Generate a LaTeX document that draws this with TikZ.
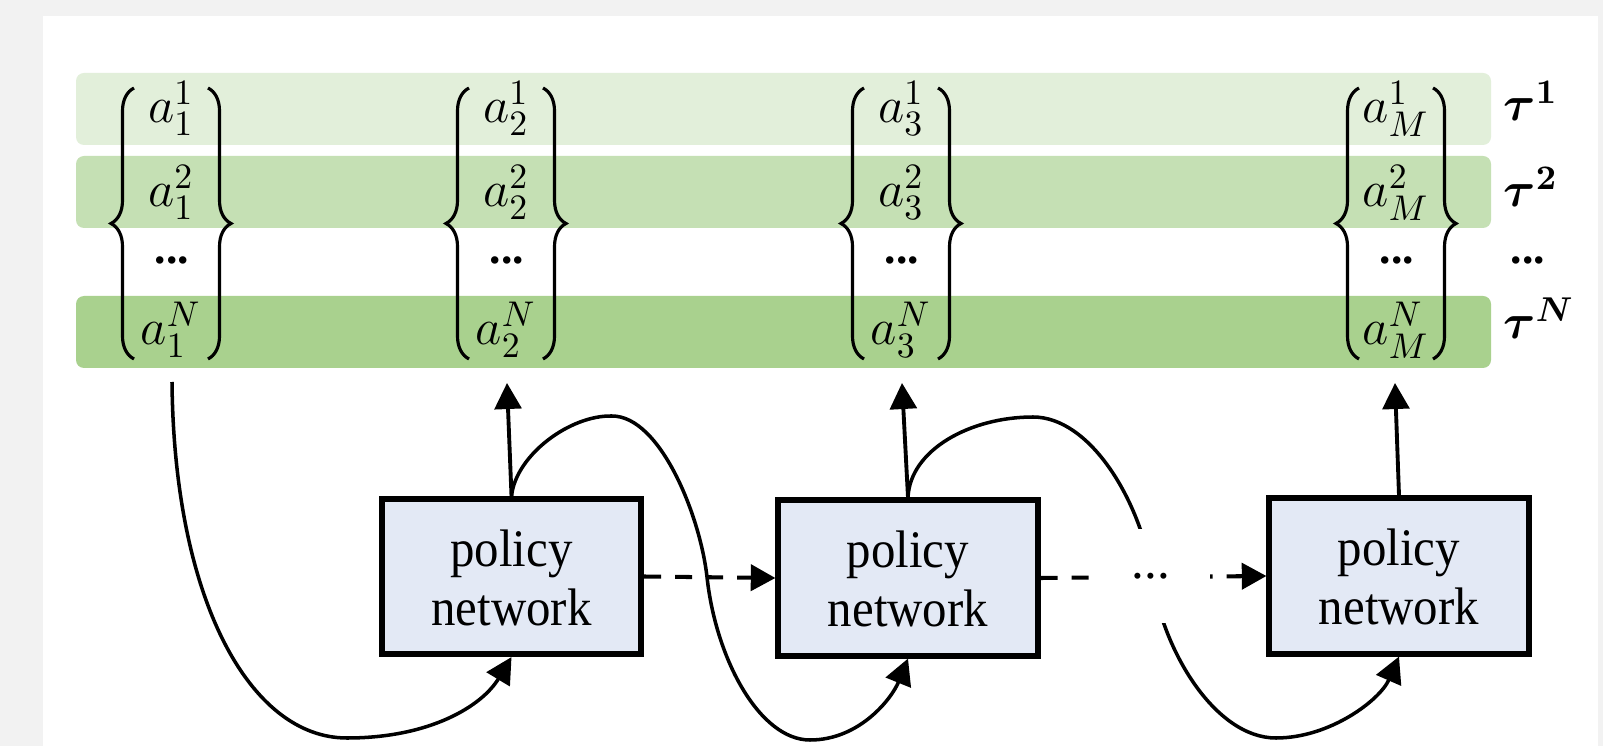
\RequirePackage{fix-cm}
\documentclass[tikz,border=0pt]{standalone}
\usepackage{amsmath}
\usepackage{bm}
\usepackage{graphicx}
\usepackage[no-math]{fontspec}
\newfontfamily\tnr{Liberation Serif}
\usetikzlibrary{arrows.meta,decorations.pathreplacing}
\definecolor{bandA}{HTML}{E2EFDA}
\definecolor{bandB}{HTML}{C5E0B4}
\definecolor{bandC}{HTML}{A9D18E}
\definecolor{boxfill}{HTML}{E3E9F5}
\definecolor{bggray}{HTML}{F2F2F2}
\newcommand{\boxtext}[2]{\scalebox{1}[1.08]{\makebox[0pt]{\raisebox{15.5pt}{#1}}\makebox[0pt]{#2}}}
\tikzset{
  bandfill/.style={rounded corners=0.08cm},
  pbox/.style={draw=black, line width=1.6pt, fill=boxfill, minimum width=2.594cm,
    minimum height=1.554cm, inner sep=0pt, text height=0.97cm, text depth=0pt,
    font=\tnr\fontsize{13.9}{15}\selectfont},
  entry/.style={anchor=base, inner sep=0pt, font=\fontsize{14.5}{15}\selectfont},
  vdotsn/.style={anchor=base, inner sep=0pt, font=\tnr\bfseries\fontsize{13}{14}\selectfont},
  taulab/.style={anchor=base west, inner sep=0pt, font=\fontsize{14}{15}\selectfont},
  bracedraw/.style={decorate, decoration={brace, amplitude=0.23cm}, line width=0.9pt},
  flow/.style={line width=1.1pt, -{Triangle[length=7.4pt,width=7.6pt]}},
  curvearrow/.style={line width=1pt, -{Triangle[length=7.4pt,width=7.6pt]}},
  dflow/.style={line width=1.15pt, dash pattern=on 0.17cm off 0.14cm,
    -{Triangle[length=7pt,width=7.4pt]}},
  gapmask/.style={fill=white, inner sep=0pt, minimum width=1.18cm, minimum height=0.94cm,
    font=\tnr\fontsize{14.5}{14.8}\selectfont},
}
\begin{document}
\begin{tikzpicture}[x=0.01cm, y=-0.01cm]
\useasboundingbox (0,0) rectangle (1603,746);
\fill[bggray] (0,0) rectangle (1603,746);
\fill[white] (43,16) rectangle (1598,746);

% bands
\fill[bandA, bandfill] (76,73) rectangle (1491,145);
\fill[bandB, bandfill] (76,156) rectangle (1491,228);
\fill[bandC, bandfill] (76,296) rectangle (1491,368);

% column 1
\node[entry] (e11) at (171,123) {$a_1^1$};
\node[entry] (e12) at (171,207) {$a_1^2$};
\node[vdotsn] (e13) at (172,264) {...};
\node[entry] (e14) at (171,345) {$a_1^N$};
% column 2
\node[entry] (e21) at (506,123) {$a_2^1$};
\node[entry] (e22) at (506,207) {$a_2^2$};
\node[vdotsn] (e23) at (507,264) {...};
\node[entry] (e24) at (506,345) {$a_2^N$};
% column 3
\node[entry] (e31) at (901,123) {$a_3^1$};
\node[entry] (e32) at (901,207) {$a_3^2$};
\node[vdotsn] (e33) at (902,264) {...};
\node[entry] (e34) at (901,345) {$a_3^N$};
% column M
\node[entry] (e41) at (1396,123) {$a_M^1$};
\node[entry] (e42) at (1396,207) {$a_M^2$};
\node[vdotsn] (e43) at (1397,264) {...};
\node[entry] (e44) at (1396,345) {$a_M^N$};

% braces
\foreach \c in {171,506,901,1396}{
  \draw[bracedraw] (\c-37,359) -- (\c-37,88);
  \draw[bracedraw] (\c+37,88) -- (\c+37,359);
}

% tau labels
\node[taulab] (t1) at (1503,121) {$\boldsymbol{\tau}^{\boldsymbol{1}}$};
\node[taulab] (t2) at (1503,207) {$\boldsymbol{\tau}^{\boldsymbol{2}}$};
\node[vdotsn] (t3) at (1528,264) {...};
\node[taulab] (t4) at (1503,339) {$\boldsymbol{\tau}^{\boldsymbol{N}}$};

% policy boxes
\node[pbox] (p1) at (511.5,576.5) {\boxtext{policy}{network}};
\node[pbox] (p2) at (908,578) {\boxtext{policy}{network}};
\node[pbox] (p3) at (1399,576) {\boxtext{policy}{network}};

% anchor points below the columns
\coordinate (s1) at (172,382);
\coordinate (u2) at (507,383);
\coordinate (u3) at (902,383);
\coordinate (u4) at (1395,383);

% up arrows
\draw[flow] (p1.north) -- (u2);
\draw[flow] (p2.north) -- (u3);
\draw[flow] (p3.north) -- (u4);

% curves
\draw[curvearrow] (s1) .. controls (174,600) and (250,738) .. (347,738)
  .. controls (430,738) and (482,706) .. (p1.south);
\draw[curvearrow] (p1.north) .. controls (516,455) and (570,415) .. (612,416)
  .. controls (660,416) and (700,515) .. (707,577)
  .. controls (716,660) and (760,740) .. (810,740)
  .. controls (860,740) and (892,698) .. (p2.south);
\draw[curvearrow] (p2.north) .. controls (910,450) and (970,417) .. (1033,417)
  .. controls (1090,417) and (1140,500) .. (1152,575)
  .. controls (1162,650) and (1215,738) .. (1276,738)
  .. controls (1330,738) and (1380,700) .. (p3.south);

% dashed arrows
\draw[dflow] (p1.east) -- (p2.west);
\draw[dflow] (p2.east) -- (p3.west);
\node[gapmask] (gap) at (1151,576) {...};
\end{tikzpicture}
\end{document}
